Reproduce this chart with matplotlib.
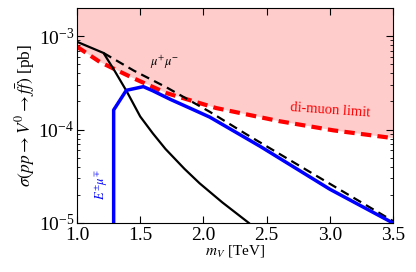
import matplotlib
matplotlib.use("Agg")
import matplotlib.pyplot as plt

plt.rcParams['font.family'] = 'serif'
plt.rcParams['font.serif'] = ['Liberation Serif', 'DejaVu Serif']
plt.rcParams['mathtext.fontset'] = 'stix'

# black solid curve
m_black = [1.0, 1.21, 1.3, 1.395, 1.5, 1.6, 1.7, 1.85, 1.97, 2.15, 2.36]
s_black = [8.7e-4, 6.6e-4, 4.2e-4, 2.54e-4, 1.38e-4, 9.1e-5, 6.2e-5, 3.8e-5, 2.66e-5, 1.66e-5, 1.0e-5]

# black dashed (mu+ mu-)
m_mumu = [1.21, 1.45, 1.71, 2.05, 2.34, 3.0, 3.5]
s_mumu = [6.6e-4, 4.27e-4, 2.82e-4, 1.55e-4, 8.9e-5, 2.63e-5, 1.05e-5]

# blue curve (E mu)
m_emu = [1.29, 1.29, 1.39, 1.525, 1.6, 1.74, 1.9, 2.05, 2.45, 3.0, 3.5]
s_emu = [1.0e-5, 1.62e-4, 2.63e-4, 2.88e-4, 2.6e-4, 2.1e-4, 1.68e-4, 1.36e-4, 6.6e-5, 2.3e-5, 1.0e-5]

# di-muon limit
m_lim = [1.0, 1.18, 1.445, 1.71, 2.1, 2.6, 3.03, 3.5]
s_lim = [7.7e-4, 5.3e-4, 3.55e-4, 2.45e-4, 1.7e-4, 1.23e-4, 9.8e-5, 8.1e-5]

fig = plt.figure(figsize=(4.16, 2.72), dpi=100)
ax = fig.add_axes([77/416, 1-223/272, (393-77)/416, (223-8)/272])

ax.fill_between(m_lim, s_lim, 1, color='#ffcccc', lw=0)
ax.plot(m_lim, s_lim, color='red', ls='--', lw=3, dashes=(2.5, 1.5))
ax.plot(m_black, s_black, color='black', lw=1.6)
ax.plot(m_mumu, s_mumu, color='black', ls='--', lw=1.6, dashes=(4, 2.5))
ax.plot(m_emu, s_emu, color='blue', lw=2.5)

ax.set_yscale('log')
ax.set_xlim(1.0, 3.5)
ax.set_ylim(1e-5, 2e-3)
ax.set_xticks([1.0, 1.5, 2.0, 2.5, 3.0, 3.5])
ax.set_xticklabels(['1.0', '1.5', '2.0', '2.5', '3.0', '3.5'])
ax.tick_params(which='both', direction='in', top=True, right=True, labelsize=14, pad=2)
ax.tick_params(axis='x', pad=3)
ax.tick_params(which='major', length=5)
ax.tick_params(which='minor', length=2.5)

ax.set_xlabel(r'$m_V$ [TeV]', fontsize=11, labelpad=-1)
ax.set_ylabel(r'$\sigma(pp \to V^0 \to f\bar{f})$ [pb]', fontsize=12.5, labelpad=1)

ax.text(1.696, 5.3e-4, r'$\mu^{+}\mu^{-}$', fontsize=9, color='black', ha='center', va='center')
ax.text(3.0, 1.6e-4, 'di-muon limit', fontsize=10.5, color='red', ha='center', va='center', rotation=-4)
ax.text(1.195, 2.6e-5, r'$E^{\pm}\mu^{\mp}$', fontsize=9, color='blue', ha='center', va='center', rotation=90)

fig.savefig('out.png', dpi=100)
